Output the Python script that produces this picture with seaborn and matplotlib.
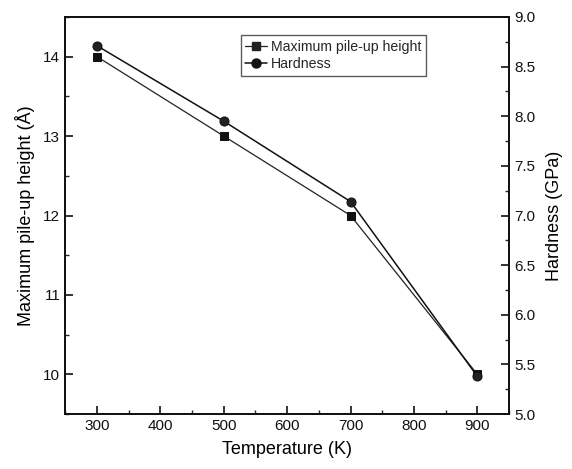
import numpy as np
import pandas as pd
import seaborn as sb
import matplotlib
matplotlib.use("Agg")
import matplotlib.pyplot as plt
from matplotlib.ticker import MultipleLocator
from matplotlib.lines import Line2D

# data
temperature = [300, 500, 700, 900]
pileup_height = [14.0, 13.0, 12.0, 10.0]
hardness = [8.71, 7.95, 7.14, 5.38]

df = pd.DataFrame({"Temperature": temperature,
                   "Pileup": pileup_height,
                   "Hardness": hardness})

sb.set_style("ticks")
plt.rcParams['font.family'] = ['Liberation Sans', 'DejaVu Sans']

fig = plt.figure(figsize=(5.72, 4.69), dpi=100)
ax = fig.add_axes([0.114, 0.117, 0.776, 0.847])
ax2 = ax.twinx()

sb.lineplot(data=df, x="Temperature", y="Pileup", ax=ax, color="#222222",
            marker="s", markersize=5.5, markeredgecolor="#111111",
            markerfacecolor="#111111", linewidth=0.9)
sb.lineplot(data=df, x="Temperature", y="Hardness", ax=ax2, color="#111111",
            marker="o", markersize=6.5, markeredgecolor="#111111",
            markerfacecolor="#222222", linewidth=1.1)

ax.set_xlim(250, 950)
ax.set_ylim(9.5, 14.5)
ax2.set_ylim(5.0, 9.0)

ax.xaxis.set_major_locator(MultipleLocator(100))
ax.xaxis.set_minor_locator(MultipleLocator(50))
ax.yaxis.set_major_locator(MultipleLocator(1))
ax.yaxis.set_minor_locator(MultipleLocator(0.5))
ax2.yaxis.set_major_locator(MultipleLocator(0.5))
ax2.yaxis.set_minor_locator(MultipleLocator(0.25))
ax2.yaxis.set_major_formatter(plt.FormatStrFormatter('%.1f'))

for a in (ax, ax2):
    a.tick_params(which="major", direction="in", length=6, width=1.2,
                  labelsize=11, colors="#111111")
    a.tick_params(which="minor", direction="in", length=3, width=1.0)
    for s in a.spines.values():
        s.set_linewidth(1.3)
        s.set_color("#111111")
ax.tick_params(axis="y", which="both", right=False)

ax.set_xlabel("Temperature (K)", fontsize=13, labelpad=6, color="#000000")
ax.set_ylabel("Maximum pile-up height (Å)", fontsize=13, labelpad=6, color="#000000")
ax2.set_ylabel("Hardness (GPa)", fontsize=13, labelpad=8, color="#000000")

handles = [Line2D([], [], color="#222222", marker="s", markersize=5.5, linewidth=0.9),
           Line2D([], [], color="#111111", marker="o", markersize=6.5, linewidth=1.1)]
leg = ax.legend(handles, ["Maximum pile-up height", "Hardness"],
                loc="upper left", bbox_to_anchor=(0.395, 0.955),
                fontsize=10.2, frameon=True, fancybox=False, handlelength=1.5,
                handletextpad=0.3, borderpad=0.35, labelspacing=0.25,
                borderaxespad=0)
leg.get_frame().set_edgecolor("#333333")
leg.get_frame().set_linewidth(1.0)

fig.savefig("out.png", dpi=100)
